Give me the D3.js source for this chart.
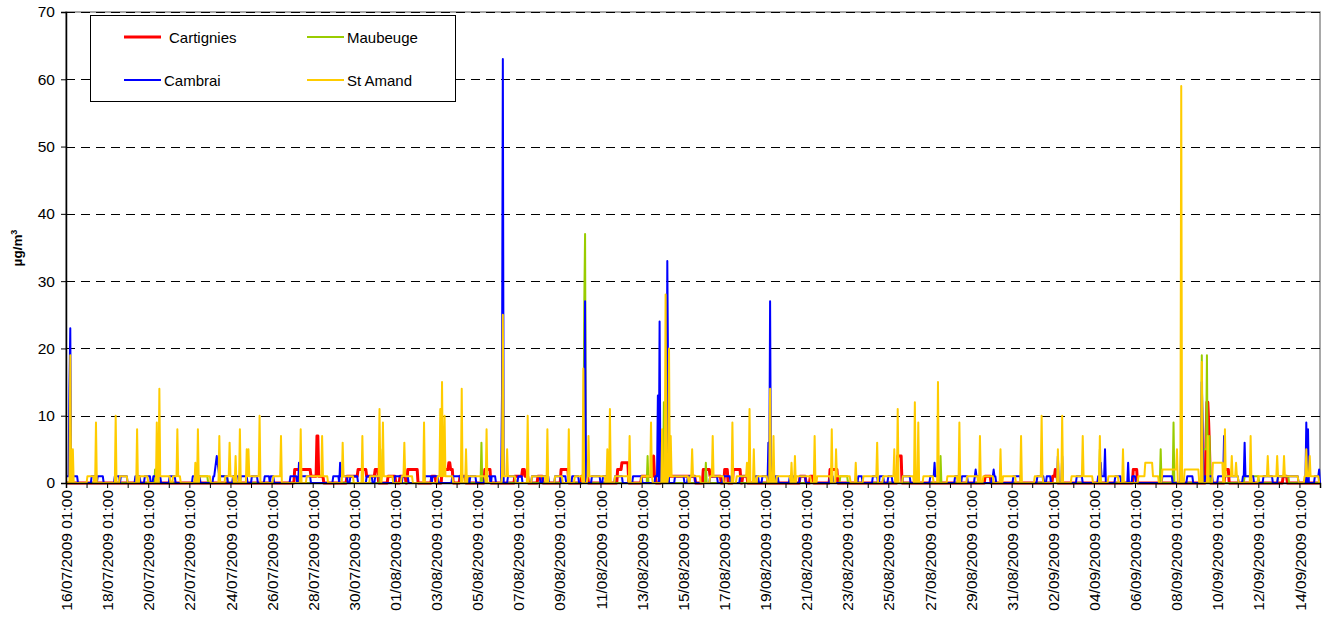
<!DOCTYPE html>
<html>
<head>
<meta charset="utf-8">
<script src="https://cdn.jsdelivr.net/npm/d3@7"></script>
<style>
    body { margin: 0; background: #fff; }
    svg { display: block; font-family: "Liberation Sans", Arial, sans-serif; }
</style>
</head>
<body>
<svg id="chart" width="1327" height="622"></svg>
<script>
// hourly data, 16/07/2009 01:00 -> 15/09/2009 01:00
const seriesNames = ["Cartignies", "Maubeuge", "Cambrai", "St Amand"];
const yTicks = [0, 10, 20, 30, 40, 50, 60, 70];
const nHours = 1464;

// runs are [first hour, last hour, value], peaks are [hour, value]; 0 elsewhere
const cartigniesRuns = [[267,285,2],[286,292,1],[295,300,1],[328,341,1],[341,351,2],[351,361,1],[361,364,2],[376,384,1],[390,396,1],[399,410,2],[427,431,1],[439,451,2],[460,466,1],[489,495,2],[524,539,1],[533,535,2],[551,556,1],[578,586,2],[602,609,1],[644,648,2],[649,656,3],[672,688,1],[695,734,1],[744,752,2],[752,764,1],[769,772,2],[779,787,2],[790,795,1],[857,863,1],[869,872,1],[892,900,2],[971,975,4],[1073,1079,1],[1152,1157,1],[1246,1250,2],[1353,1357,2],[1421,1425,1]];
const cartigniesPeaks = [[293,7],[294,7],[447,3],[448,3],[686,4],[1155,2],[1331,7],[1332,12],[1333,12],[1334,9],[1335,5]];

const maubeugeRuns = [[104,107,2],[156,165,1],[180,188,1],[904,912,1],[1327,1331,5],[1376,1392,1],[1415,1427,1]];
const maubeugePeaks = [[367,5],[485,6],[605,26],[606,37],[679,4],[698,12],[747,3],[1021,4],[1207,5],[1278,5],[1293,9],[1326,19],[1332,19],[1335,7]];

const cambraiRuns = [[0,5,1],[8,13,1],[30,35,1],[37,43,1],[57,62,1],[64,71,1],[81,86,1],[92,98,1],[102,110,1],[121,127,1],[148,156,1],[172,175,1],[179,188,1],[195,201,1],[204,211,1],[217,223,1],[232,237,1],[239,242,1],[262,269,1],[273,285,1],[312,318,1],[321,328,1],[332,340,1],[351,357,1],[361,367,1],[384,391,1],[393,399,1],[419,426,1],[428,434,1],[451,460,1],[463,470,1],[472,478,1],[489,495,1],[497,501,1],[516,524,1],[528,532,1],[544,553,1],[557,563,1],[571,577,1],[579,583,1],[591,598,1],[614,623,1],[627,633,1],[641,649,1],[662,672,1],[688,691,1],[711,721,1],[726,734,1],[752,760,1],[767,775,1],[787,796,1],[804,808,1],[813,818,1],[828,831,1],[845,849,1],[857,863,1],[892,895,1],[925,929,1],[942,947,1],[950,954,1],[960,964,1],[977,985,1],[1009,1018,1],[1038,1041,1],[1046,1052,1],[1061,1065,1],[1081,1085,1],[1106,1114,1],[1134,1141,1],[1145,1149,1],[1180,1186,1],[1205,1213,1],[1225,1231,1],[1245,1248,1],[1280,1291,1],[1309,1315,1],[1330,1338,1],[1345,1368,1],[1374,1386,1],[1398,1408,1],[1415,1438,1],[1458,1463,1]];
const cambraiPeaks = [[4,14],[5,23],[174,2],[175,3],[176,4],[177,3],[178,2],[272,3],[320,3],[509,13],[510,63],[606,27],[691,13],[693,24],[702,33],[703,14],[820,6],[822,27],[1014,3],[1062,2],[1083,2],[1158,4],[1163,4],[1208,3],[1213,5],[1240,3],[1302,7],[1326,15],[1327,8],[1352,7],[1376,6],[1448,9],[1450,8],[1463,2]];

const stAmandRuns = [[25,32,1],[63,71,1],[86,95,1],[110,121,1],[125,133,1],[156,168,1],[186,195,1],[211,226,1],[242,250,1],[281,305,1],[323,335,1],[355,367,1],[369,381,1],[392,404,1],[434,451,1],[469,489,1],[509,524,1],[544,559,1],[571,579,1],[594,602,1],[609,629,1],[641,656,1],[672,684,1],[703,726,1],[729,740,1],[752,767,1],[783,795,1],[807,818,1],[830,845,1],[853,869,1],[877,892,1],[900,915,1],[931,947,1],[954,966,1],[977,989,1],[1001,1012,1],[1029,1040,1],[1052,1064,1],[1071,1082,1],[1094,1108,1],[1131,1140,1],[1174,1198,1],[1217,1228,1],[1252,1275,1],[1260,1268,3],[1280,1297,2],[1306,1322,2],[1339,1350,3],[1353,1368,1],[1392,1438,1],[1446,1462,1]];
const stAmandPeaks = [[5,19],[8,5],[35,9],[58,10],[83,8],[106,9],[109,14],[130,8],[151,3],[154,8],[179,7],[191,6],[198,4],[203,8],[211,5],[213,5],[226,10],[251,7],[274,8],[299,7],[323,6],[346,7],[366,11],[370,9],[395,6],[418,9],[437,11],[439,15],[442,10],[462,14],[467,5],[491,8],[510,25],[515,5],[539,10],[562,8],[587,8],[604,17],[610,7],[632,5],[635,11],[658,7],[683,9],[696,8],[700,28],[704,20],[706,7],[731,5],[755,7],[778,9],[795,3],[798,11],[803,5],[822,14],[826,7],[847,3],[851,4],[874,7],[894,8],[899,5],[922,3],[947,6],[967,5],[971,11],[991,12],[995,9],[1018,15],[1043,9],[1067,7],[1091,5],[1115,7],[1139,10],[1158,5],[1163,10],[1187,7],[1207,7],[1234,5],[1297,5],[1302,59],[1326,18],[1333,7],[1353,8],[1361,4],[1366,3],[1383,7],[1403,4],[1414,4],[1422,4],[1448,5],[1452,4]];

const seriesColors = ["#FF0000", "#99CC00", "#0000FF", "#FFCC00"];
const seriesWidths = [3, 2, 2, 2];

const startDate = new Date(2009, 6, 16, 1);
const endDate = d3.timeHour.offset(startDate, nHours);

function buildSeries(runs, peaks) {
    let vals = new Array(nHours + 1).fill(0);
    runs.forEach(r => { for (let h = r[0]; h <= r[1]; h++) vals[h] = r[2]; });
    peaks.forEach(p => { vals[p[0]] = p[1]; });
    return vals.map((v, i) => ({ date: d3.timeHour.offset(startDate, i), val: v }));
}

const data = [
    buildSeries(cartigniesRuns, cartigniesPeaks),
    buildSeries(maubeugeRuns, maubeugePeaks),
    buildSeries(cambraiRuns, cambraiPeaks),
    buildSeries(stAmandRuns, stAmandPeaks)
];

const plotLeft = 66, plotRight = 1320, plotTop = 12, plotBottom = 483;
const svg = d3.select("#chart");

const x = d3.scaleTime().domain([startDate, endDate]).range([plotLeft, plotRight]);
const y = d3.scaleLinear().domain([0, 70]).range([plotBottom, plotTop]);

// plot frame
svg.append("rect")
    .attr("x", plotLeft).attr("y", plotTop)
    .attr("width", plotRight - plotLeft).attr("height", plotBottom - plotTop)
    .attr("fill", "#fff")
    .attr("stroke", "#8c8c8c")
    .attr("stroke-width", 1.5);

// dashed gridlines
svg.append("g")
    .selectAll("line")
    .data(yTicks.filter(d => d > 0))
    .enter()
    .append("line")
    .attr("x1", plotLeft).attr("x2", plotRight)
    .attr("y1", d => Math.round(y(d)) + 0.5)
    .attr("y2", d => Math.round(y(d)) + 0.5)
    .attr("stroke", "#000")
    .attr("stroke-width", 1)
    .attr("stroke-dasharray", "9,6");

const line = d3.line()
    .x(d => x(d.date))
    .y(d => y(d.val));

svg.append("g")
    .selectAll("path")
    .data(data)
    .enter()
    .append("path")
    .attr("d", d => line(d))
    .attr("fill", "none")
    .attr("stroke", (d, i) => seriesColors[i])
    .attr("stroke-width", (d, i) => seriesWidths[i])
    .attr("stroke-linejoin", "round");

// y axis
const yAxis = svg.append("g")
    .attr("transform", `translate(${plotLeft},0)`)
    .call(d3.axisLeft(y).tickValues(yTicks).tickSize(5).tickPadding(6));
yAxis.select(".domain").attr("stroke", "#000").attr("stroke-width", 1.5);
yAxis.selectAll("text").attr("font-size", 15.5).attr("fill", "#000")
    .attr("font-family", "Liberation Sans, Arial, sans-serif");

// x axis, one tick per day, label every second day
const fmt = d3.timeFormat("%d/%m/%Y %H:%M");
const dayTicks = d3.range(0, nHours / 24 + 1).map(d => d3.timeHour.offset(startDate, d * 24));
const xAxis = svg.append("g")
    .attr("transform", `translate(0,${plotBottom})`)
    .call(d3.axisBottom(x).tickValues(dayTicks).tickSize(5)
        .tickFormat((d, i) => i % 2 === 0 && i < dayTicks.length - 1 ? fmt(d) : ""));
xAxis.select(".domain").attr("stroke", "#000").attr("stroke-width", 1.5);
xAxis.selectAll("text")
    .attr("font-size", 15.5)
    .attr("fill", "#000")
    .attr("font-family", "Liberation Sans, Arial, sans-serif")
    .attr("transform", "rotate(-90)")
    .attr("text-anchor", "end")
    .attr("x", -7)
    .attr("y", 0)
    .attr("dy", "0.36em");

// y title
const yTitle = svg.append("text")
    .attr("transform", "translate(22,248) rotate(-90)")
    .attr("text-anchor", "middle")
    .attr("font-size", 13.5)
    .attr("font-weight", "bold")
    .text("µg/m");
yTitle.append("tspan")
    .attr("font-size", 9)
    .attr("dy", -5)
    .text("3");

// legend
const legend = svg.append("g");
legend.append("rect")
    .attr("x", 90.5).attr("y", 15.5)
    .attr("width", 365).attr("height", 86)
    .attr("fill", "#fff")
    .attr("stroke", "#000")
    .attr("stroke-width", 1);

const legendPos = [
    { lx: 124, ly: 37, tx: 169 },
    { lx: 307, ly: 37, tx: 347 },
    { lx: 124, ly: 80, tx: 164 },
    { lx: 307, ly: 80, tx: 347 }
];
legendPos.forEach((p, i) => {
    legend.append("line")
        .attr("x1", p.lx).attr("x2", p.lx + 37)
        .attr("y1", p.ly).attr("y2", p.ly)
        .attr("stroke", seriesColors[i])
        .attr("stroke-width", seriesWidths[i]);
    legend.append("text")
        .attr("x", p.tx).attr("y", p.ly + 5.5)
        .attr("font-size", 15)
        .text(seriesNames[i]);
});
</script>
</body>
</html>
